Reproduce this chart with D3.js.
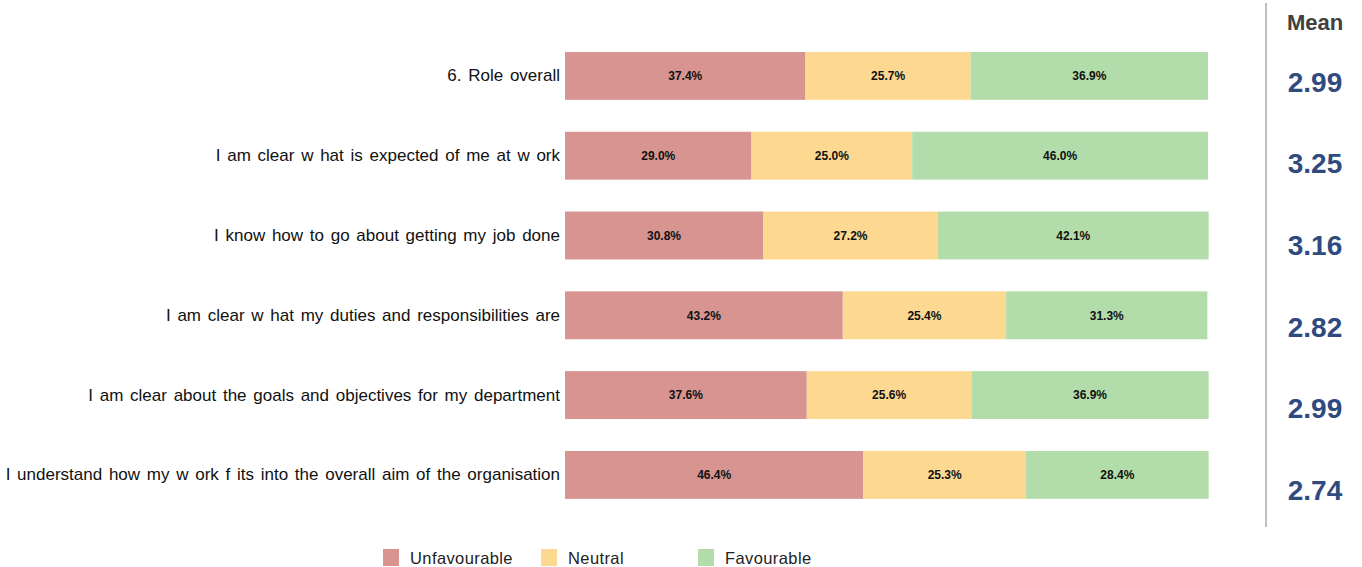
<!DOCTYPE html>
<html><head><meta charset="utf-8">
<script src="https://cdn.jsdelivr.net/npm/d3@7"></script>
<style>body{margin:0;background:#fff;} svg{display:block;font-family:"Liberation Sans",Arial,sans-serif;}</style>
</head><body>
<svg id="chart" width="1362" height="567"></svg>
<script>
const categories = [
  "6. Role overall",
  "I am clear w hat is expected of me at w ork",
  "I know  how  to go about getting my job done",
  "I am clear w hat my duties and responsibilities are",
  "I am clear about the goals and objectives for my department",
  "I understand how  my w ork f its into the overall aim of the organisation"
];
const unfavourable = [37.4, 29.0, 30.8, 43.2, 37.6, 46.4];
const neutral      = [25.7, 25.0, 27.2, 25.4, 25.6, 25.3];
const favourable   = [36.9, 46.0, 42.1, 31.3, 36.9, 28.4];
const means        = ["2.99", "3.25", "3.16", "2.82", "2.99", "2.74"];
const seriesNames  = ["Unfavourable", "Neutral", "Favourable"];
const colors       = ["#D79490", "#FDD891", "#B2DDAA"];

const svg = d3.select("#chart");
const x = d3.scaleLinear().domain([0, 100]).range([565, 1208]);
const y = d3.scaleBand().domain(categories).range([36, 514.8]).paddingInner(0.4).paddingOuter(0.2);
const yMean = d3.scaleBand().domain(categories).range([41.2, 530.8]);

const seriesValues = [unfavourable, neutral, favourable];
const rows = categories.map((c, i) => {
  let acc = 0;
  return seriesValues.map((vals, s) => {
    const seg = {cat: c, s, v: vals[i], x0: acc, x1: acc + vals[i]};
    acc += vals[i];
    return seg;
  });
}).flat();

svg.selectAll("rect.bar").data(rows).join("rect")
  .attr("class", "bar")
  .attr("x", d => x(d.x0))
  .attr("y", d => y(d.cat))
  .attr("width", d => x(d.x1) - x(d.x0))
  .attr("height", y.bandwidth())
  .attr("fill", d => colors[d.s]);

svg.selectAll("text.val").data(rows).join("text")
  .attr("class", "val")
  .attr("x", d => (x(d.x0) + x(d.x1)) / 2)
  .attr("y", d => y(d.cat) + y.bandwidth() / 2)
  .attr("dy", "0.35em")
  .attr("text-anchor", "middle")
  .attr("font-size", 12)
  .attr("font-weight", "bold")
  .attr("fill", "#111")
  .text(d => d.v.toFixed(1) + "%");

// category axis labels
const yAxis = d3.axisLeft(y).tickSize(0).tickPadding(5);
const gAx = svg.append("g").attr("transform", "translate(565,0)").call(yAxis);
gAx.select(".domain").remove();
gAx.selectAll("text").attr("font-size", 17).attr("fill", "#111")
  .attr("word-spacing", "2px")
  .attr("font-family", "'Liberation Sans', Arial, sans-serif");

// Mean column
svg.append("line").attr("x1", 1266).attr("x2", 1266).attr("y1", 3).attr("y2", 527)
  .attr("stroke", "#bfbfbf").attr("stroke-width", 2);
svg.append("text").attr("x", 1315).attr("y", 22).attr("dy", "0.35em").attr("text-anchor", "middle")
  .attr("font-size", 22).attr("font-weight", "bold").attr("fill", "#404040").text("Mean");
svg.selectAll("text.mean").data(categories).join("text")
  .attr("class", "mean")
  .attr("x", 1315)
  .attr("y", d => yMean(d) + yMean.bandwidth() / 2)
  .attr("dy", "0.35em")
  .attr("text-anchor", "middle")
  .attr("font-size", 28).attr("font-weight", "bold").attr("fill", "#2F4A7F")
  .text((d, i) => means[i]);

// legend
const legendX = [383, 541, 698];
const lg = svg.selectAll("g.leg").data(seriesNames).join("g").attr("class", "leg")
  .attr("transform", (d, i) => `translate(${legendX[i]},549)`);
lg.append("rect").attr("width", 16).attr("height", 17).attr("fill", (d, i) => colors[i]);
lg.append("text").attr("x", 27).attr("y", 9).attr("dy", "0.35em")
  .attr("font-size", 16.5).attr("letter-spacing", "0.4px").attr("fill", "#222").text(d => d);
</script>
</body></html>
